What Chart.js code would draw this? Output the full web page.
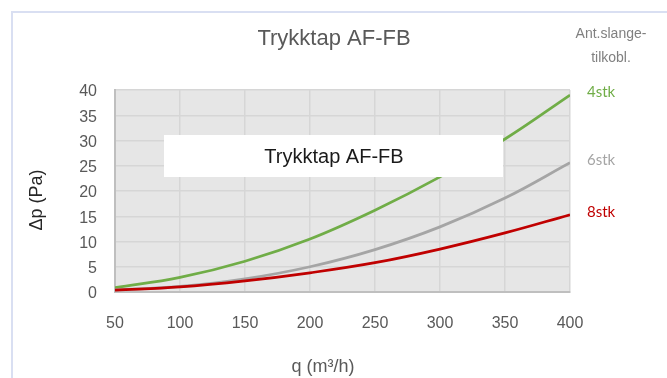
<!DOCTYPE html>
<html>
<head>
<meta charset="utf-8">
<script src="https://cdn.jsdelivr.net/npm/chart.js@4/dist/chart.umd.min.js"></script>
<style>
  html, body { margin: 0; padding: 0; background: #fff; }
  #wrap { width: 667px; height: 378px; }
</style>
</head>
<body>
<div id="wrap"><canvas id="trykkChart" width="667" height="378"></canvas></div>
<script>
// luftmengde q (m3/h)
const flows = [50, 100, 150, 200, 250, 300, 350, 400];
// trykktap (Pa) per antall slangetilkoblinger
const stk4 = [0.85, 2.9, 6.1, 10.5, 16.2, 22.8, 30.3, 39.0];
const stk6 = [0.4, 1.1, 2.6, 5.0, 8.4, 12.9, 18.6, 25.6];
const stk8 = [0.35, 1.0, 2.2, 3.8, 5.8, 8.5, 11.7, 15.3];
const seriesNames = ['4stk', '6stk', '8stk'];

const chartTitle = 'Trykktap AF-FB';
const legendHeader = ['Ant.slange-', 'tilkobl.'];
const xTitle = 'q (m³/h)';
const yTitle = 'Δp (Pa)';

const colors = ['#70ad47', '#a5a5a5', '#c00000'];
const textGray = '#595959';

function toPoints(values) {
  return flows.map((q, i) => ({ x: q, y: values[i] }));
}

// bakgrunn, ramme og tekster som Excel-diagrammet har
const decorPlugin = {
  id: 'decor',
  beforeDraw(chart) {
    const { ctx, chartArea } = chart;
    ctx.save();
    ctx.strokeStyle = '#d9dff2';
    ctx.lineWidth = 2;
    ctx.strokeRect(12, 12, 700, 400);
    ctx.fillStyle = '#e6e6e6';
    ctx.fillRect(chartArea.left, chartArea.top,
      chartArea.right - chartArea.left, chartArea.bottom - chartArea.top);
    ctx.restore();
  },
  afterDatasetsDraw(chart) {
    const { ctx } = chart;
    ctx.save();
    // hvit boks med tittel inne i plottet
    ctx.fillStyle = '#ffffff';
    ctx.fillRect(164, 135, 339, 42);
    ctx.fillStyle = '#1a1a1a';
    ctx.font = '20px "Liberation Sans", Arial, sans-serif';
    ctx.textAlign = 'center';
    ctx.textBaseline = 'middle';
    ctx.fillText(chartTitle, 334, 157);
    ctx.restore();
  },
  afterDraw(chart) {
    const { ctx } = chart;
    ctx.save();
    ctx.textAlign = 'center';
    ctx.textBaseline = 'middle';

    ctx.fillStyle = textGray;
    ctx.font = '22px "Liberation Sans", Arial, sans-serif';
    ctx.fillText(chartTitle, 334, 39);

    ctx.fillStyle = '#808080';
    ctx.font = '14px "Liberation Sans", Arial, sans-serif';
    ctx.fillText(legendHeader[0], 611, 34);
    ctx.fillText(legendHeader[1], 611, 58);

    ctx.fillStyle = textGray;
    ctx.font = '18px "Liberation Sans", Arial, sans-serif';
    ctx.fillText(xTitle, 323, 367);

    ctx.save();
    ctx.translate(37, 200);
    ctx.rotate(-Math.PI / 2);
    ctx.fillStyle = '#262626';
    ctx.fillText(yTitle, 0, 0);
    ctx.restore();

    // seriesnavn ved enden av linjene
    ctx.textAlign = 'left';
    ctx.font = '15px Lato, "Noto Sans", sans-serif';
    const labelY = [92, 160, 212];
    seriesNames.forEach((name, i) => {
      ctx.fillStyle = colors[i];
      ctx.fillText(name, 587, labelY[i]);
    });
    ctx.restore();
  }
};

const ctx = document.getElementById('trykkChart').getContext('2d');
const chart = new Chart(ctx, {
  type: 'line',
  data: {
    datasets: [
      { label: seriesNames[0], data: toPoints(stk4), borderColor: colors[0], order: 2 },
      { label: seriesNames[1], data: toPoints(stk6), borderColor: colors[1], order: 1 },
      { label: seriesNames[2], data: toPoints(stk8), borderColor: colors[2], order: 0 },
    ],
  },
  options: {
    responsive: false,
    animation: false,
    layout: { padding: { top: 90, right: 97, left: 0, bottom: 0 } },
    elements: {
      line: { borderWidth: 2.75, fill: false, tension: 0.4 },
      point: { radius: 0 },
    },
    plugins: {
      legend: { display: false },
      title: { display: false },
      tooltip: { enabled: false },
    },
    scales: {
      x: {
        type: 'linear',
        min: 50,
        max: 400,
        afterFit: (scale) => { scale.height = 86; },
        ticks: {
          stepSize: 50,
          padding: 22,
          color: textGray,
          font: { family: '"Liberation Sans", Arial, sans-serif', size: 16 },
        },
        grid: { color: '#d6d6d6', lineWidth: 1.5, drawTicks: false },
        border: { color: '#bfbfbf', width: 2 },
      },
      y: {
        min: 0,
        max: 40,
        afterFit: (scale) => { scale.width = 115; },
        ticks: {
          stepSize: 5,
          padding: 18,
          labelOffset: 2,
          color: textGray,
          font: { family: '"Liberation Sans", Arial, sans-serif', size: 16 },
        },
        grid: { color: '#d6d6d6', lineWidth: 1.5, drawTicks: false },
        border: { color: '#bfbfbf', width: 2 },
      },
    },
  },
  plugins: [decorPlugin],
});
</script>
</body>
</html>
